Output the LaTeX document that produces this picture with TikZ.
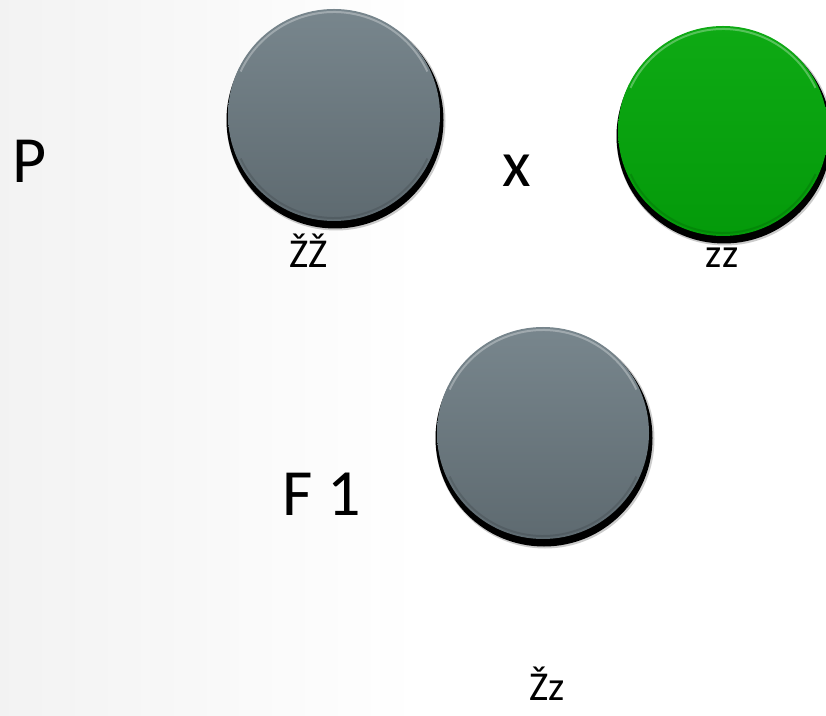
\documentclass[tikz,border=0pt]{standalone}
\usepackage{fontspec}
\setmainfont{Carlito}
\usetikzlibrary{shadings}
\definecolor{gtop}{RGB}{120,134,141}
\definecolor{gbot}{RGB}{94,106,112}
\definecolor{grtop}{RGB}{14,170,20}
\definecolor{grbot}{RGB}{4,154,10}
\tikzset{
  biglbl/.style={inner sep=0pt, anchor=base, font=\fontsize{66}{80}\selectfont},
  smalllbl/.style={inner sep=0pt, anchor=base, font=\fontsize{41}{50}\selectfont},
}
\newcommand{\mybutton}[6]{% name, x, y, r, top, bottom
  \fill[black, opacity=0.2] (#2+2,#3-6) circle (#4+3.5);
  \fill[black] (#2+1,#3-5) circle (#4+2.5);
  \shade[top color=#5, bottom color=#6] (#2,#3) circle (#4);
  \draw[white, opacity=0.3, line width=2pt] (#2,#3) ++(25:#4-3) arc (25:155:#4-3);
  \draw[black, opacity=0.12, line width=2pt] (#2,#3) ++(205:#4-3) arc (205:335:#4-3);
  \coordinate (#1) at (#2,#3);
}
\begin{document}
\begin{tikzpicture}[x=1pt,y=1pt]
\useasboundingbox (0,0) rectangle (826,715);
\fill[white] (0,0) rectangle (826,715);
\shade[left color=black!5, right color=white] (0,0) rectangle (420,715);
\begin{scope}
\clip (0,0) rectangle (826,715);
\mybutton{c1}{334}{600}{106}{gtop}{gbot}
\mybutton{c2}{723}{584}{105}{grtop}{grbot}
\mybutton{c3}{543}{282}{106}{gtop}{gbot}
\end{scope}
\node[biglbl] (p) at (30,532) {P};
\node[biglbl] (x) at (517,528) {x};
\node[smalllbl] (l1) at (309,447) {ŽŽ};
\node[smalllbl] (l2) at (722,447) {zz};
\node[biglbl] (f1) at (322,200) {F 1};
\node[smalllbl] (l3) at (547,15) {Žz};
\end{tikzpicture}
\end{document}
